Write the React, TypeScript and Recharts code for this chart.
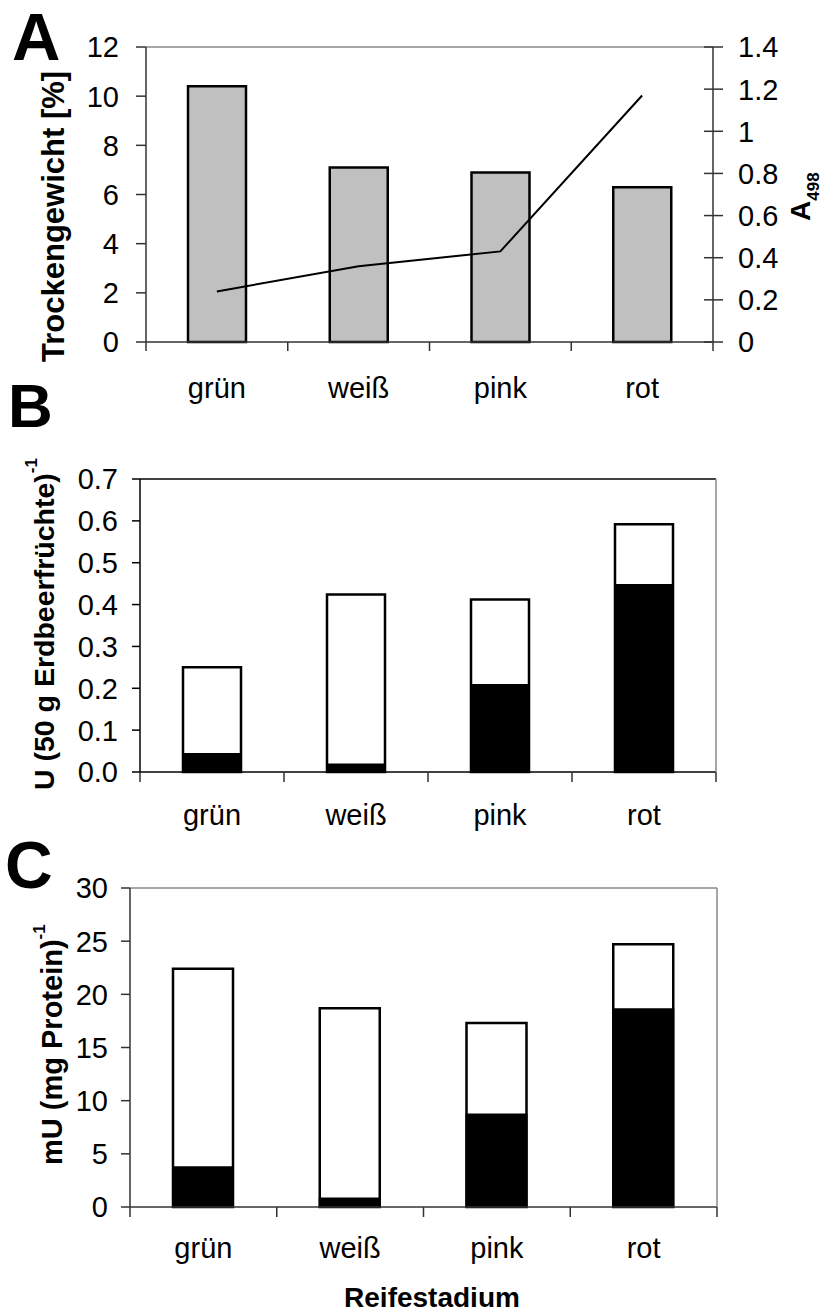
import { Bar, ComposedChart, Line, ReferenceLine, XAxis, YAxis } from "recharts";

// Reifestadien
const stages = ["grün", "weiß", "pink", "rot"];

// A: Trockengewicht (bars, left) and A498 (line, right)
const trockengewicht = [10.4, 7.1, 6.9, 6.3];
const a498 = [0.24, 0.36, 0.43, 1.17];

// B: U (50 g Erdbeerfrüchte)^-1, total and black part
const uTotal = [0.25, 0.424, 0.412, 0.592];
const uBlack = [0.043, 0.018, 0.208, 0.447];

// C: mU (mg Protein)^-1, total and black part
const mUTotal = [22.4, 18.7, 17.3, 24.7];
const mUBlack = [3.75, 0.8, 8.7, 18.6];

const ticksA = [0, 2, 4, 6, 8, 10, 12];
const ticksA2 = [0, 0.2, 0.4, 0.6, 0.8, 1, 1.2, 1.4];
const ticksB = [0, 0.1, 0.2, 0.3, 0.4, 0.5, 0.6, 0.7];
const ticksC = [0, 5, 10, 15, 20, 25, 30];

const dataA = stages.map((s, i) => ({ stage: s, tg: trockengewicht[i], a: a498[i] }));
const dataB = stages.map((s, i) => ({ stage: s, total: uTotal[i], black: uBlack[i] }));
const dataC = stages.map((s, i) => ({ stage: s, total: mUTotal[i], black: mUBlack[i] }));

const FONT = "'Liberation Sans', Arial, sans-serif";
const AXIS = "#333";
const BORDER = "#888";
const W = 826;

function LeftTick(props: any) {
  const { x, y, payload, fmt, len, gap, stroke } = props;
  return (
    <g>
      <line x1={x - len} x2={x} y1={y} y2={y} stroke={stroke} strokeWidth={1.5} />
      <text x={x - gap} y={y} dy="0.36em" textAnchor="end" fontSize={29} fontFamily={FONT} fill="#000">
        {fmt ? fmt(payload.value) : payload.value}
      </text>
    </g>
  );
}

function RightTick(props: any) {
  const { x, y, payload } = props;
  return (
    <g>
      <line x1={x - 9} x2={x + 10} y1={y} y2={y} stroke={AXIS} strokeWidth={1.5} />
      <text x={x + 25} y={y} dy="0.36em" textAnchor="start" fontSize={29} fontFamily={FONT} fill="#000">
        {payload.value}
      </text>
    </g>
  );
}

function XTick(props: any) {
  const { x, y, payload, index, band, len, dy, stroke } = props;
  return (
    <g>
      <line x1={x - band / 2} x2={x - band / 2} y1={y} y2={y + len} stroke={stroke} strokeWidth={1.5} />
      {index === stages.length - 1 && (
        <line x1={x + band / 2} x2={x + band / 2} y1={y} y2={y + len} stroke={stroke} strokeWidth={1.5} />
      )}
      <text x={x} y={y + dy} textAnchor="middle" fontSize={29} fontFamily={FONT} fill="#000">
        {payload.value}
      </text>
    </g>
  );
}

// rotated axis title, (x, y) = start of baseline
function vTitle(x: number, y: number, size: number, main: string, sub?: string, subDy?: number) {
  return () => (
    <text
      x={x}
      y={y}
      transform={`rotate(-90 ${x} ${y})`}
      fontSize={size}
      fontWeight="bold"
      fontFamily={FONT}
      fill="#000"
    >
      {main}
      {sub && (
        <tspan fontSize={17} dy={subDy}>
          {sub}
        </tspan>
      )}
    </text>
  );
}

function reifeTitle() {
  return (
    <text x={432} y={467} textAnchor="middle" fontSize={28} fontWeight="bold" fontFamily={FONT} fill="#000">
      Reifestadium
    </text>
  );
}

export default function App() {
  return (
    <div style={{ position: "absolute", left: 0, top: 0, width: W, height: 1315, background: "#fff" }}>
      {/* A */}
      <div style={{ position: "absolute", left: 0, top: 0 }}>
        <ComposedChart
          width={W}
          height={410}
          data={dataA}
          margin={{ top: 47, right: 0, bottom: 8, left: 0 }}
          barSize={58}
        >
          <XAxis
            dataKey="stage"
            height={60}
            tickSize={0}
            tickMargin={0}
            stroke={AXIS}
            strokeWidth={1.5}
            tickLine={false}
            tick={<XTick band={141.75} len={9} dy={56} stroke={AXIS} />}
          />
          <YAxis
            yAxisId="left"
            width={146}
            domain={[0, 12]}
            ticks={ticksA}
            tickSize={0}
            tickMargin={0}
            tickLine={false}
            stroke={AXIS}
            strokeWidth={1.5}
            tick={<LeftTick len={10} gap={27} stroke={AXIS} />}
            label={{ content: vTitle(64, 362, 31, "Trockengewicht [%]") }}
          />
          <YAxis
            yAxisId="right"
            orientation="right"
            width={113}
            domain={[0, 1.4]}
            ticks={ticksA2}
            tickSize={0}
            tickMargin={0}
            tickLine={false}
            stroke={AXIS}
            strokeWidth={1.5}
            tick={<RightTick />}
            label={{ content: vTitle(810, 221, 28, "A", "498", 9) }}
          />
          <ReferenceLine yAxisId="left" y={12} stroke={BORDER} strokeWidth={1.5} />
          <Bar
            yAxisId="left"
            dataKey="tg"
            fill="#c0c0c0"
            stroke="#000"
            strokeWidth={2.5}
            isAnimationActive={false}
          />
          <Line
            yAxisId="right"
            dataKey="a"
            type="linear"
            stroke="#000"
            strokeWidth={2}
            dot={false}
            isAnimationActive={false}
          />
        </ComposedChart>
      </div>

      {/* B */}
      <div style={{ position: "absolute", left: 0, top: 400 }}>
        <ComposedChart
          width={W}
          height={440}
          data={dataB}
          margin={{ top: 79, right: 0, bottom: 8, left: 0 }}
          barSize={58}
          barGap={-58}
        >
          <XAxis
            dataKey="stage"
            height={60}
            tickSize={0}
            tickMargin={0}
            stroke="#000"
            strokeWidth={1.5}
            tickLine={false}
            tick={<XTick band={144} len={10} dy={53} stroke={AXIS} />}
          />
          <YAxis
            yAxisId="left"
            width={140}
            domain={[0, 0.7]}
            ticks={ticksB}
            tickSize={0}
            tickMargin={0}
            tickLine={false}
            stroke="#000"
            strokeWidth={1.5}
            tick={<LeftTick len={8} gap={22} stroke="#000" fmt={(v: number) => v.toFixed(1)} />}
            label={{ content: vTitle(54, 390, 28.5, "U (50 g Erdbeerfrüchte)", "-1", -17) }}
          />
          <YAxis
            yAxisId="frame"
            orientation="right"
            width={110}
            domain={[0, 1]}
            tick={false}
            tickLine={false}
            stroke={BORDER}
            strokeWidth={1.5}
          />
          <ReferenceLine yAxisId="left" y={0.7} stroke="#000" strokeWidth={1.5} />
          <Bar
            yAxisId="left"
            dataKey="total"
            fill="#fff"
            stroke="#000"
            strokeWidth={2.5}
            isAnimationActive={false}
          />
          <Bar
            yAxisId="left"
            dataKey="black"
            fill="#000"
            stroke="#000"
            strokeWidth={2}
            isAnimationActive={false}
          />
        </ComposedChart>
      </div>

      {/* C */}
      <div style={{ position: "absolute", left: 0, top: 840 }}>
        <ComposedChart
          width={W}
          height={475}
          data={dataC}
          margin={{ top: 48, right: 0, bottom: 8, left: 0 }}
          barSize={60}
          barGap={-60}
        >
          <XAxis
            dataKey="stage"
            height={100}
            tickSize={0}
            tickMargin={0}
            stroke={AXIS}
            strokeWidth={1.5}
            tickLine={false}
            tick={<XTick band={146.75} len={10} dy={51} stroke={AXIS} />}
            label={{ content: reifeTitle }}
          />
          <YAxis
            yAxisId="left"
            width={130}
            domain={[0, 30]}
            ticks={ticksC}
            tickSize={0}
            tickMargin={0}
            tickLine={false}
            stroke={AXIS}
            strokeWidth={1.5}
            tick={<LeftTick len={9} gap={22} stroke={AXIS} />}
            label={{ content: vTitle(62, 325, 29, "mU (mg Protein)", "-1", -17) }}
          />
          <YAxis
            yAxisId="frame"
            orientation="right"
            width={109}
            domain={[0, 1]}
            tick={false}
            tickLine={false}
            stroke={BORDER}
            strokeWidth={1.5}
          />
          <ReferenceLine yAxisId="left" y={30} stroke={BORDER} strokeWidth={1.5} />
          <Bar
            yAxisId="left"
            dataKey="total"
            fill="#fff"
            stroke="#000"
            strokeWidth={2.5}
            isAnimationActive={false}
          />
          <Bar
            yAxisId="left"
            dataKey="black"
            fill="#000"
            stroke="#000"
            strokeWidth={2}
            isAnimationActive={false}
          />
        </ComposedChart>
      </div>

      {/* panel letters */}
      <svg
        width={W}
        height={1315}
        style={{ position: "absolute", left: 0, top: 0, pointerEvents: "none" }}
      >
        <g fontFamily={FONT} fontWeight="bold" fill="#000">
          <text x={12} y={60} fontSize={67}>A</text>
          <text x={8} y={427} fontSize={62}>B</text>
          <text x={5} y={888} fontSize={66}>C</text>
        </g>
      </svg>
    </div>
  );
}
